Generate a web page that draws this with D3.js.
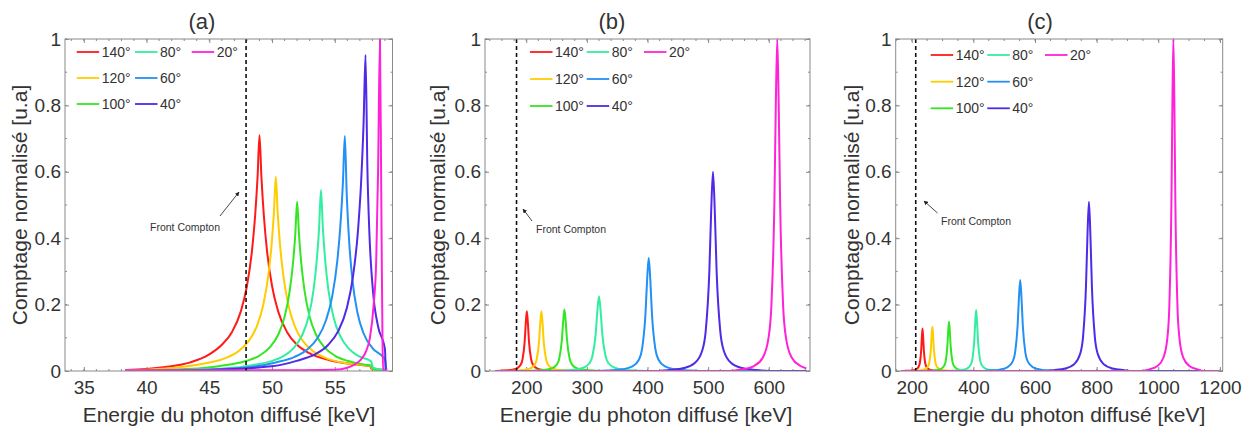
<!DOCTYPE html>
<html><head><meta charset="utf-8">
<script src="https://cdn.jsdelivr.net/npm/d3@7"></script>
<style>
body{margin:0;background:#fff}
svg{display:block}
text{font-family:"Liberation Sans",Arial,sans-serif;fill:#333}
</style>
</head><body><svg id="c" width="1253" height="430"></svg>
<script>
// ---------- labels ----------
const angles = ["140°","120°","100°","80°","60°","40°","20°"];
const colors = ["#ff1a1a","#ffcc00","#33e622","#33eea0","#2290f5","#4f2ae8","#ff22d8"];
const titles = ["(a)","(b)","(c)"];
const yTicks = [0,0.2,0.4,0.6,0.8,1];
const xTicksA = [35,40,45,50,55];
const xTicksB = [200,300,400,500,600];
const xTicksC = [200,400,600,800,1000,1200];
const frontCompton = [47.93, 184, 213];

// ---------- panel (a) : [energy keV, normalised count] ----------
const a140 = [[38.3,0.003],[40,0.006],[41.5,0.012],[43.5,0.026],[45,0.05],[46,0.079],[46.8,0.117],[47.5,0.178],[48,0.256],[48.4,0.362],[48.65,0.467],[48.85,0.587],[49.0,0.71],[49.15,0.587],[49.35,0.467],[49.6,0.362],[50,0.256],[50.5,0.178],[51.2,0.117],[52,0.079],[53,0.053],[54.5,0.033],[56.5,0.02],[57.8,0.015],[57.95,0.006],[59.1,0.003]];
const a120 = [[38.3,0.002],[40,0.004],[42.8,0.012],[44.8,0.024],[46.3,0.039],[47.3,0.059],[48.1,0.0885],[48.8,0.136],[49.3,0.199],[49.7,0.287],[49.95,0.374],[50.15,0.477],[50.3,0.585],[50.45,0.477],[50.65,0.374],[50.9,0.287],[51.3,0.199],[51.8,0.136],[52.5,0.0885],[53.3,0.059],[54.3,0.039],[55.8,0.024],[57.85,0.015],[58.0,0.006],[59.1,0.002]];
const a100 = [[38.3,0.001],[42,0.004],[44.5,0.009],[46.5,0.0186],[48,0.0307],[49,0.0466],[49.8,0.0704],[50.5,0.11],[51,0.163],[51.4,0.239],[51.65,0.317],[51.85,0.41],[52.0,0.51],[52.15,0.41],[52.35,0.317],[52.6,0.239],[53,0.163],[53.5,0.11],[54.2,0.0704],[55,0.0466],[56,0.0307],[57.5,0.0186],[57.9,0.016],[58.05,0.005],[59.1,0.002]];
const a80 = [[38.3,0],[43,0.003],[46.4,0.008],[48.4,0.0175],[49.9,0.029],[50.9,0.0445],[51.7,0.068],[52.4,0.108],[52.9,0.162],[53.3,0.242],[53.55,0.327],[53.75,0.431],[53.9,0.545],[54.05,0.431],[54.25,0.327],[54.5,0.242],[54.9,0.162],[55.4,0.108],[56.1,0.068],[56.9,0.0445],[57.9,0.029],[58.05,0.01],[59.1,0.002]];
const a60 = [[38.3,0],[44,0.003],[48.3,0.012],[50.3,0.0258],[51.8,0.0426],[52.8,0.0647],[53.6,0.0977],[54.3,0.153],[54.8,0.226],[55.2,0.331],[55.45,0.44],[55.65,0.569],[55.8,0.708],[55.95,0.535],[56.15,0.388],[56.4,0.276],[56.8,0.177],[57.3,0.113],[58,0.069],[58.8,0.044],[59.0,0.035],[59.1,0.005]];
const a40 = [[38.3,0],[45,0.003],[49.95,0.014],[51.95,0.0306],[53.45,0.0507],[54.45,0.0777],[55.25,0.1185],[55.95,0.188],[56.45,0.284],[56.85,0.423],[57.1,0.57],[57.3,0.752],[57.45,0.952],[57.6,0.609],[57.75,0.423],[58.05,0.238],[58.45,0.134],[59.0,0.065],[59.05,0.003]];
const a20 = [[38.3,0.002],[45,0.002],[50,0.002],[55,0.004],[56,0.01],[56.6,0.02],[57.1,0.035],[57.5,0.06],[57.8,0.1],[58.1,0.2],[58.3,0.33],[58.45,0.6],[58.6,1.0],[58.7,0.55],[58.8,0.1],[58.85,0.003],[59.2,0.002]];

// ---------- panel (b) ----------
const b140 = [[149,0],[159,0.0009],[173,0.0027],[183.5,0.0072],[190.5,0.018],[194,0.036],[197.5,0.09],[199.25,0.144],[201,0.18],[202.75,0.144],[204.5,0.09],[208,0.036],[211.5,0.018],[218.5,0.0072],[229,0.0027],[243,0.0009],[255,0],[662,0]];
const b120 = [[149,0],[165,0],[179.4,0.0009],[194.6,0.0027],[206,0.0072],[213.6,0.018],[217.4,0.036],[221.2,0.09],[223.1,0.144],[225,0.18],[226.9,0.144],[228.8,0.09],[232.6,0.036],[236.4,0.018],[244,0.0072],[255.4,0.0027],[270.6,0.0009],[285,0],[662,0]];
const b100 = [[149,0],[195,0],[211.4,0.0009],[228.6,0.0028],[241.5,0.0074],[250.1,0.0185],[254.4,0.037],[258.7,0.0925],[260.85,0.148],[263,0.185],[265.15,0.148],[267.3,0.0925],[271.6,0.037],[275.9,0.0185],[284.5,0.0074],[297.4,0.0028],[314.6,0.0009],[330,0],[662,0]];
const b80 = [[149,0],[238,0],[255.2,0.0011],[276.8,0.0034],[293,0.009],[303.8,0.0225],[309.2,0.045],[314.6,0.1125],[317.3,0.18],[320,0.225],[322.7,0.18],[325.4,0.1125],[330.8,0.045],[336.2,0.0225],[347,0.009],[363.2,0.0034],[384.8,0.0011],[400,0],[662,0]];
const b60 = [[149,0],[320,0],[337.2,0.0017],[358.8,0.0051],[375,0.0136],[385.8,0.034],[391.2,0.068],[396.6,0.17],[399.3,0.272],[402,0.34],[404.7,0.272],[407.4,0.17],[412.8,0.068],[418.2,0.034],[429,0.0136],[445.2,0.0051],[466.8,0.0017],[485,0],[662,0]];
const b40 = [[149,0],[415,0],[436,0.003],[460,0.009],[478,0.024],[490,0.06],[496,0.12],[502,0.3],[505,0.48],[508,0.6],[511,0.48],[514,0.3],[520,0.12],[526,0.06],[538,0.024],[556,0.009],[580,0.003],[600,0],[662,0]];
const b20 = [[149,0],[535,0],[556.4,0.005],[575.6,0.015],[590,0.04],[599.6,0.1],[604.4,0.2],[609.2,0.5],[611.6,0.8],[614,1],[616.4,0.8],[618.8,0.5],[623.6,0.2],[628.4,0.1],[638,0.04],[652.4,0.015],[662,0.008]];

// ---------- panel (c) ----------
const c140 = [[165,0],[172,0],[184.6,0.0006],[201.4,0.0019],[214,0.0051],[222.4,0.0128],[226.6,0.0256],[230.8,0.064],[232.9,0.1024],[235,0.128],[237.1,0.1024],[239.2,0.064],[243.4,0.0256],[247.6,0.0128],[256,0.0051],[268.6,0.0019],[285.4,0.0006],[300,0],[1195,0]];
const c120 = [[165,0],[195,0],[209.4,0.0007],[228.6,0.002],[243,0.0053],[252.6,0.0133],[257.4,0.0266],[262.2,0.0665],[264.6,0.1064],[267,0.133],[269.4,0.1064],[271.8,0.0665],[276.6,0.0266],[281.4,0.0133],[291,0.0053],[305.4,0.002],[324.6,0.0007],[340,0],[1195,0]];
const c100 = [[165,0],[240,0],[256.2,0.0007],[277.8,0.0022],[294,0.0059],[304.8,0.0148],[310.2,0.0296],[315.6,0.074],[318.3,0.1184],[321,0.148],[323.7,0.1184],[326.4,0.074],[331.8,0.0296],[337.2,0.0148],[348,0.0059],[364.2,0.0022],[385.8,0.0007],[400,0],[1195,0]];
const c80 = [[165,0],[320,0],[337,0.0009],[361,0.0028],[379,0.0074],[391,0.0184],[397,0.0368],[403,0.092],[406,0.147],[409,0.184],[412,0.147],[415,0.092],[421,0.0368],[427,0.0184],[439,0.0074],[457,0.0028],[481,0.0009],[500,0],[1195,0]];
const c60 = [[165,0],[430,0],[451.2,0.0014],[484.8,0.0041],[510,0.011],[526.8,0.0274],[535.2,0.0548],[543.6,0.137],[547.8,0.219],[552,0.274],[556.2,0.219],[560.4,0.137],[568.8,0.0548],[577.2,0.0274],[594,0.011],[619.2,0.0041],[652.8,0.0014],[675,0],[1195,0]];
const c40 = [[165,0],[635,0],[659.8,0.0026],[698.2,0.0077],[727,0.0204],[746.2,0.051],[755.8,0.102],[765.4,0.255],[770.2,0.408],[775,0.51],[779.8,0.408],[784.6,0.255],[794.2,0.102],[803.8,0.051],[823,0.0204],[851.8,0.0077],[890.2,0.0026],[915,0],[1195,0]];
const c20 = [[165,0],[950,0],[971,0.005],[997,0.015],[1016.5,0.04],[1029.5,0.1],[1036,0.2],[1042.5,0.5],[1045.75,0.8],[1049,1],[1052.25,0.8],[1055.5,0.5],[1062,0.2],[1068.5,0.1],[1081,0.04],[1101,0.015],[1127,0.005],[1150,0],[1195,0]];

// ---------- layout ----------
const panels = [
  {series:[a140,a120,a100,a80,a60,a40,a20], xDomain:[33.5,59.6], xTicks:xTicksA, minorStep:1,
   left:65, right:392.5, title:titles[0], titleX:202, fc:frontCompton[0],
   leg:{x:[76.7,135,191.7], y:[52,78,104]},
   fcText:[185,231], arrow:[[220,216],[239,192]], ylabX:20, xlabX:229},
  {series:[b140,b120,b100,b80,b60,b40,b20], xDomain:[132,668], xTicks:xTicksB, minorStep:20,
   left:485, right:810, title:titles[1], titleX:612, fc:frontCompton[1],
   leg:{x:[530,586.7,644], y:[52,79,106]},
   fcText:[571,233], arrow:[[532,221],[523,209]], ylabX:438, xlabX:646},
  {series:[c140,c120,c100,c80,c60,c40,c20], xDomain:[148,1209], xTicks:xTicksC, minorStep:50,
   left:895.7, right:1222.7, title:titles[2], titleX:1040, fc:frontCompton[2],
   leg:{x:[930.7,987.3,1045], y:[55,81.7,108.3]},
   fcText:[976,225], arrow:[[937.5,213],[924,201]], ylabX:852, xlabX:1059}
];
const TOP = 39, BOTTOM = 371;
const svg = d3.select("#c");
svg.append("rect").attr("width",1253).attr("height",430).attr("fill","#fff");
const defs = svg.append("defs");
defs.append("marker").attr("id","arr").attr("viewBox","0 0 10 10").attr("refX",9).attr("refY",5)
  .attr("markerWidth",5).attr("markerHeight",5).attr("orient","auto")
  .append("path").attr("d","M0,0L10,5L0,10z").attr("fill","#222");

panels.forEach((p,pi)=>{
  const x = d3.scaleLinear().domain(p.xDomain).range([p.left,p.right]);
  const y = d3.scaleLinear().domain([0,1]).range([BOTTOM,TOP]);
  const g = svg.append("g");
  defs.append("clipPath").attr("id","clip"+pi).append("rect")
    .attr("x",p.left).attr("y",TOP-1).attr("width",p.right-p.left).attr("height",BOTTOM-TOP+1);

  const minorX = d3.range(Math.ceil(p.xDomain[0]/p.minorStep)*p.minorStep, p.xDomain[1], p.minorStep);
  const minorY = d3.range(0,1.0001,0.1);
  const tc = "#8a8a8a";
  minorX.forEach(v=>{
    g.append("line").attr("x1",x(v)).attr("x2",x(v)).attr("y1",BOTTOM).attr("y2",BOTTOM-2).attr("stroke",tc);
    g.append("line").attr("x1",x(v)).attr("x2",x(v)).attr("y1",TOP).attr("y2",TOP+2).attr("stroke",tc);
  });
  minorY.forEach(v=>{
    g.append("line").attr("y1",y(v)).attr("y2",y(v)).attr("x1",p.left).attr("x2",p.left+2).attr("stroke",tc);
    g.append("line").attr("y1",y(v)).attr("y2",y(v)).attr("x1",p.right).attr("x2",p.right-2).attr("stroke",tc);
  });

  g.append("g").attr("transform",`translate(0,${BOTTOM})`)
    .call(d3.axisBottom(x).tickValues(p.xTicks).tickFormat(d3.format("d")).tickSize(-4).tickPadding(10));
  g.append("g").attr("transform",`translate(${p.left},0)`)
    .call(d3.axisLeft(y).tickValues(yTicks).tickFormat(d=>d===0||d===1?String(d):d3.format(".1f")(d)).tickSize(-4).tickPadding(4));
  g.append("g").attr("transform",`translate(0,${TOP})`).call(d3.axisTop(x).tickValues(p.xTicks).tickSize(-4).tickFormat(""));
  g.append("g").attr("transform",`translate(${p.right},0)`).call(d3.axisRight(y).tickValues(yTicks).tickSize(-4).tickFormat(""));
  g.selectAll(".domain").remove();
  g.selectAll(".tick line").attr("stroke",tc);
  g.selectAll(".tick text").style("font-size","19px").attr("fill","#333").style("font-family",'"Liberation Sans",Arial,sans-serif');

  const line = d3.line().x(d=>x(d[0])).y(d=>y(d[1])).curve(d3.curveMonotoneX);
  const cg = g.append("g").attr("clip-path",`url(#clip${pi})`);
  p.series.forEach((s,i)=>{
    cg.append("path").attr("d",line(s)).attr("fill","none").attr("stroke",colors[i])
      .attr("stroke-width",2).attr("stroke-linejoin","round");
  });

  g.append("line").attr("x1",x(p.fc)).attr("x2",x(p.fc)).attr("y1",TOP).attr("y2",BOTTOM)
    .attr("stroke","#111").attr("stroke-width",1.6).attr("stroke-dasharray","4,3");

  g.append("rect").attr("x",p.left).attr("y",TOP).attr("width",p.right-p.left).attr("height",BOTTOM-TOP)
    .attr("fill","none").attr("stroke","#8a8a8a").attr("stroke-width",1);

  g.append("text").attr("x",p.fcText[0]).attr("y",p.fcText[1]).attr("text-anchor","middle")
    .style("font-size","10.5px").text("Front Compton");
  g.append("line").attr("x1",p.arrow[0][0]).attr("y1",p.arrow[0][1]).attr("x2",p.arrow[1][0]).attr("y2",p.arrow[1][1])
    .attr("stroke","#333").attr("stroke-width",0.9).attr("marker-end","url(#arr)");

  angles.forEach((a,i)=>{
    const col = Math.floor(i/3), row = i%3;
    const lx = p.leg.x[col], ly = p.leg.y[row];
    g.append("line").attr("x1",lx).attr("x2",lx+22.5).attr("y1",ly).attr("y2",ly)
      .attr("stroke",colors[i]).attr("stroke-width",1.8);
    g.append("text").attr("x",lx+25).attr("y",ly+5).style("font-size","14px").text(a);
  });

  g.append("text").attr("x",p.titleX).attr("y",29).attr("text-anchor","middle").style("font-size","22px").text(p.title);
  g.append("text").attr("x",p.xlabX).attr("y",422).attr("text-anchor","middle").style("font-size","21px")
    .text("Energie du photon diffusé [keV]");
  g.append("text").attr("transform",`translate(${p.ylabX+7},205) rotate(-90)`).attr("text-anchor","middle")
    .style("font-size","21px").text("Comptage normalisé [u.a]");
});
</script>
</body></html>
